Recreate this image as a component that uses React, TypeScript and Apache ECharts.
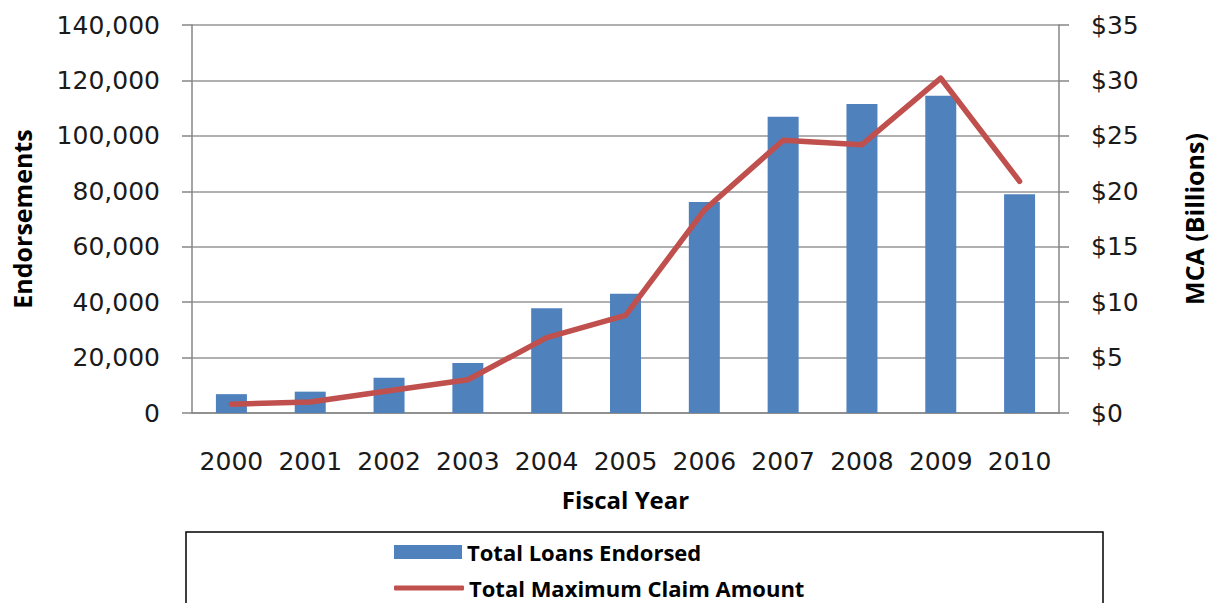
import React, { useEffect, useRef } from "react";
import * as echarts from "echarts";

const years = ["2000", "2001", "2002", "2003", "2004", "2005", "2006", "2007", "2008", "2009", "2010"];
const loansEndorsed = [6800, 7700, 12700, 18000, 37800, 43000, 76100, 106900, 111500, 114500, 78900];
const maxClaimBillions = [0.8, 1.0, 2.0, 3.0, 6.8, 8.8, 18.3, 24.6, 24.2, 30.2, 20.9];

const barName = "Total Loans Endorsed";
const lineName = "Total Maximum Claim Amount";

const tickFont = "DejaVu Sans";
const titleFont = "Open Sans";

export default function App() {
  const ref = useRef<HTMLDivElement>(null);
  useEffect(() => {
    if (!ref.current) return;
    const chart = echarts.init(ref.current, null, { renderer: "svg" });
    const axisLine = { show: true, lineStyle: { color: "#868686", width: 1.5 } };
    const legendText = { fontFamily: titleFont, fontWeight: "bold", fontSize: 22, color: "#000" };
    chart.setOption({
      animation: false,
      backgroundColor: "#ffffff",
      grid: { left: 192, right: 153, top: 25, bottom: 190, containLabel: false, outerBoundsMode: "none" },
      graphic: [
        {
          type: "rect",
          shape: { x: 186, y: 532, width: 917, height: 90 },
          style: { fill: "none", stroke: "#000000", lineWidth: 1.5 },
          z: 0,
        },
      ],
      legend: [
        {
          left: 389,
          top: 536,
          itemWidth: 68,
          itemHeight: 14,
          data: [{ name: barName, icon: "rect" }],
          textStyle: legendText,
        },
        {
          left: 389,
          top: 572,
          itemWidth: 70,
          itemHeight: 5,
          data: [{ name: lineName, icon: "roundRect" }],
          textStyle: legendText,
        },
      ],
      xAxis: {
        type: "category",
        data: years,
        axisLine: axisLine,
        axisTick: { show: false },
        axisLabel: { fontFamily: tickFont, fontSize: 25, color: "#1a1a1a", margin: 36, interval: 0 },
        name: "Fiscal Year",
        nameLocation: "middle",
        nameGap: 74,
        nameTextStyle: { fontFamily: titleFont, fontWeight: "bold", fontSize: 24, color: "#000" },
      },
      yAxis: [
        {
          type: "value",
          min: 0,
          max: 140000,
          interval: 20000,
          axisLine: axisLine,
          axisTick: { show: true, length: 10, lineStyle: { color: "#868686", width: 1.5 } },
          splitLine: { show: true, lineStyle: { color: "#969696", width: 1.5 } },
          axisLabel: {
            fontFamily: tickFont,
            fontSize: 25,
            color: "#1a1a1a",
            margin: 32,
            formatter: (v: number) => v.toLocaleString("en-US"),
          },
          name: "Endorsements",
          nameLocation: "middle",
          nameGap: 158,
          nameRotate: 90,
          nameTextStyle: { fontFamily: titleFont, fontWeight: "bold", fontSize: 25, color: "#000" },
        },
        {
          type: "value",
          min: 0,
          max: 35,
          interval: 5,
          position: "right",
          axisLine: axisLine,
          axisTick: { show: true, length: 10, lineStyle: { color: "#868686", width: 1.5 } },
          splitLine: { show: false },
          axisLabel: {
            fontFamily: tickFont,
            fontSize: 25,
            color: "#1a1a1a",
            margin: 32,
            formatter: (v: number) => "$" + v,
          },
          name: "MCA (Billions)",
          nameLocation: "middle",
          nameGap: 122,
          nameRotate: 90,
          nameTextStyle: { fontFamily: titleFont, fontWeight: "bold", fontSize: 25, color: "#000" },
        },
      ],
      series: [
        {
          name: barName,
          type: "bar",
          data: loansEndorsed,
          yAxisIndex: 0,
          barWidth: 31,
          itemStyle: { color: "#4F81BD" },
        },
        {
          name: lineName,
          type: "line",
          data: maxClaimBillions,
          yAxisIndex: 1,
          symbol: "none",
          lineStyle: { color: "#C0504D", width: 5.5, cap: "round", join: "round" },
          itemStyle: { color: "#C0504D" },
        },
      ],
    });
    return () => chart.dispose();
  }, []);
  return (
    <div
      ref={ref}
      style={{ position: "fixed", left: 0, top: 0, width: 1212, height: 603, background: "#fff" }}
    />
  );
}
